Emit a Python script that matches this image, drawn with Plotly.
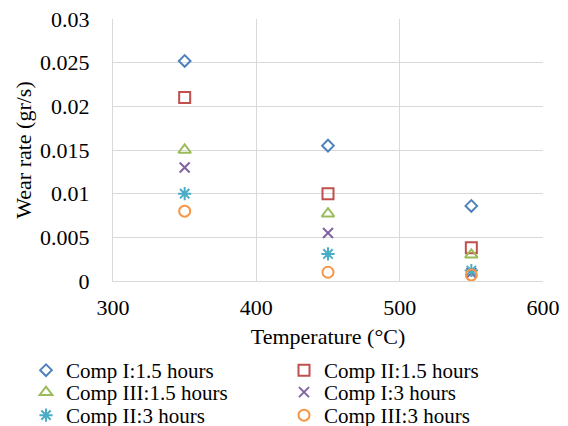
import plotly.graph_objects as go

temperatures = [350, 450, 550]

series_names = [
    "Comp I:1.5 hours",
    "Comp II:1.5 hours",
    "Comp III:1.5 hours",
    "Comp I:3 hours",
    "Comp II:3 hours",
    "Comp III:3 hours",
]

comp1_15h = [0.0252, 0.0155, 0.0086]
comp2_15h = [0.0210, 0.0100, 0.0038]
comp3_15h = [0.0150, 0.0077, 0.0030]
comp1_3h = [0.0130, 0.0055, 0.0009]
comp2_3h = [0.0100, 0.0031, 0.0012]
comp3_3h = [0.0080, 0.0010, 0.0007]

x_ticks = [300, 400, 500, 600]
y_ticks = [0, 0.005, 0.01, 0.015, 0.02, 0.025, 0.03]
y_tick_labels = ["0", "0.005", "0.01", "0.015", "0.02", "0.025", "0.03"]

values = [comp1_15h, comp2_15h, comp3_15h, comp1_3h, comp2_3h, comp3_3h]
styles = [
    dict(symbol="diamond-open", color="#4F81BD", size=9),
    dict(symbol="square-open", color="#C0504D", size=11),
    dict(symbol="triangle-up-open", color="#9BBB59", size=11),
    dict(symbol="x-thin-open", color="#8064A2", size=10),
    dict(symbol="asterisk-open", color="#4BACC6", size=11),
    dict(symbol="circle-open", color="#F79646", size=11),
]
legend_ids = ["legend", "legend", "legend2", "legend2", "legend3", "legend3"]

FONT = "Liberation Serif"
TXT = dict(family=FONT, size=22, color="black")

fig = go.Figure()
for name, vals, st, lg in zip(series_names, values, styles, legend_ids):
    fig.add_trace(go.Scatter(
        x=temperatures, y=vals, mode="markers", name=name, legend=lg,
        marker=dict(symbol=st["symbol"], size=st["size"], color=st["color"],
                    line=dict(color=st["color"], width=2)),
    ))

def legend_row(ypos):
    return dict(
        orientation="h", x=-0.2023, xanchor="left", y=ypos, yanchor="top",
        entrywidth=213, entrywidthmode="pixels",
        font=dict(family=FONT, size=21, color="black"),
        itemwidth=30, traceorder="normal",
        bgcolor="rgba(0,0,0,0)", borderwidth=0,
    )

fig.update_layout(
    width=568, height=426,
    margin=dict(l=105, r=33, t=11, b=153, autoexpand=False),
    paper_bgcolor="white", plot_bgcolor="white",
    font=TXT,
    showlegend=True,
    legend=legend_row(-0.2634),
    legend2=legend_row(-0.3473),
    legend3=legend_row(-0.4351),
)
fig.update_xaxes(
    range=[300, 600], tickvals=x_ticks, ticktext=[str(v) for v in x_ticks],
    tickfont=TXT, ticklabeloverflow="allow",
    showgrid=True, gridcolor="#D9D9D9", gridwidth=1,
    showline=True, linecolor="#D9D9D9", mirror=False, zeroline=False,
    ticks="", ticklabelstandoff=7,
    title=dict(text="Temperature (°C)", standoff=9, font=TXT),
)
fig.update_yaxes(
    range=[0, 0.03], tickvals=y_ticks, ticktext=y_tick_labels,
    tickfont=TXT, ticklabeloverflow="allow",
    showgrid=True, gridcolor="#D9D9D9", gridwidth=1,
    showline=True, linecolor="#D9D9D9", zeroline=False,
    ticks="", ticklabelstandoff=18,
    title=dict(text="Wear rate (gr/s)", standoff=2, font=TXT),
)

fig.write_html("out.html")
